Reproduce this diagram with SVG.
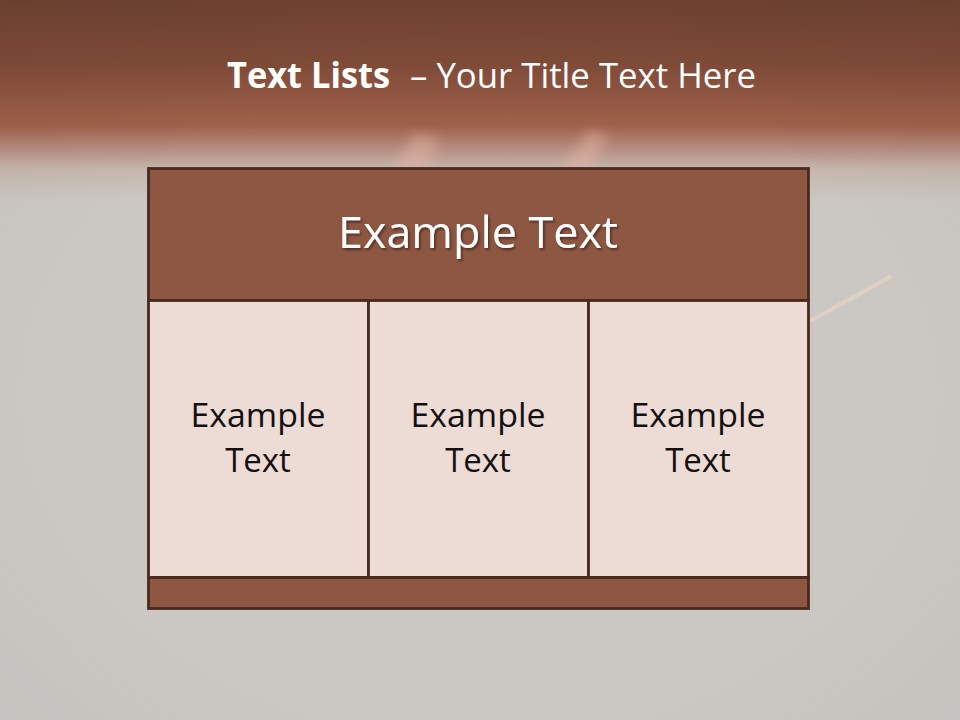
<svg xmlns="http://www.w3.org/2000/svg" width="960" height="720" viewBox="0 0 960 720">
  <defs>
    <linearGradient id="bg" x1="0" y1="0" x2="0" y2="1">
      <stop offset="0" stop-color="#6d4231"/>
      <stop offset="0.09" stop-color="#7f4b38"/>
      <stop offset="0.175" stop-color="#a0614a"/>
      <stop offset="0.2" stop-color="#b08474"/>
      <stop offset="0.235" stop-color="#c6b6ae"/>
      <stop offset="0.28" stop-color="#cbc8c4"/>
      <stop offset="1" stop-color="#cbc8c4"/>
    </linearGradient>
    <radialGradient id="vig" cx="0.5" cy="0.55" r="0.75">
      <stop offset="0.6" stop-color="#000" stop-opacity="0"/>
      <stop offset="1" stop-color="#000" stop-opacity="0.04"/>
    </radialGradient>
    <filter id="sh" x="-10%" y="-20%" width="120%" height="150%">
      <feDropShadow dx="1.5" dy="2" stdDeviation="1.2" flood-color="#2a140c" flood-opacity="0.6"/>
    </filter>
    <filter id="blur" x="-50%" y="-50%" width="200%" height="200%">
      <feGaussianBlur stdDeviation="6"/>
    </filter>
  </defs>
  <style>
    .title { font-family: "Open Sans", "Liberation Sans", sans-serif; fill: #ffffff; }
    .hdr { fill: #8d5742; stroke: #4b2a1f; stroke-width: 2.8; }
    .cell { fill: #ecdcd5; stroke: #4b2a1f; stroke-width: 2.8; }
    .htext { font-family: "Open Sans", "Liberation Sans", sans-serif; font-size: 43px; fill: #ffffff; text-anchor: middle; }
    .ctext { font-family: "Open Sans", "Liberation Sans", sans-serif; font-size: 33px; fill: #141010; text-anchor: middle; }
  </style>

  <!-- background -->
  <rect x="0" y="0" width="960" height="720" fill="url(#bg)"/>
  <rect x="0" y="0" width="960" height="720" fill="url(#vig)"/>
  <g opacity="0.45" filter="url(#blur)">
    <path d="M392,172 L414,134 L440,138 L426,172 Z" fill="#e6b8a8"/>
    <path d="M560,172 L588,130 L610,136 L588,172 Z" fill="#e6b8a8"/>
  </g>
  <line x1="812" y1="320" x2="890" y2="277" stroke="#e6d6c6" stroke-width="4" stroke-linecap="round" opacity="0.7"/>

  <!-- title -->
  <text class="title" x="227" y="88" font-size="35px"><tspan font-weight="bold" textLength="163" lengthAdjust="spacingAndGlyphs">Text Lists</tspan><tspan x="410" textLength="346" lengthAdjust="spacingAndGlyphs">– Your Title Text Here</tspan></text>

  <!-- table -->
  <g id="header">
    <rect class="hdr" x="148.5" y="168.5" width="660" height="132"/>
    <text class="htext" x="478" y="248" filter="url(#sh)" textLength="280" lengthAdjust="spacingAndGlyphs">Example Text</text>
  </g>
  <g id="cell1">
    <rect class="cell" x="148.5" y="300.5" width="220" height="277"/>
    <text class="ctext" x="258" y="427" textLength="135" lengthAdjust="spacingAndGlyphs">Example</text>
    <text class="ctext" x="258" y="472">Text</text>
  </g>
  <g id="cell2">
    <rect class="cell" x="368.5" y="300.5" width="220" height="277"/>
    <text class="ctext" x="478" y="427" textLength="135" lengthAdjust="spacingAndGlyphs">Example</text>
    <text class="ctext" x="478" y="472">Text</text>
  </g>
  <g id="cell3">
    <rect class="cell" x="588.5" y="300.5" width="220" height="277"/>
    <text class="ctext" x="698" y="427" textLength="135" lengthAdjust="spacingAndGlyphs">Example</text>
    <text class="ctext" x="698" y="472">Text</text>
  </g>
  <g id="footer">
    <rect class="hdr" x="148.5" y="577.5" width="660" height="31"/>
  </g>
  <g id="connectors"/>
</svg>
